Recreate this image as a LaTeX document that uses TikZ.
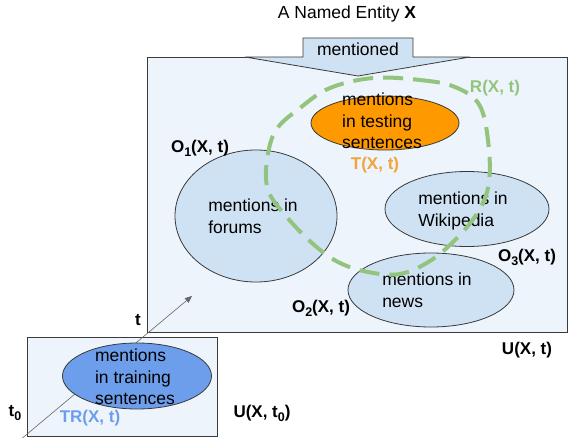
\documentclass[tikz,border=0pt]{standalone}
\usepackage{fontspec}
\setmainfont{Liberation Sans}
\usetikzlibrary{
  shapes.geometric,
  arrows
}
\definecolor{panelblue}{HTML}{EEF4FB}
\definecolor{lightblue}{HTML}{CFE2F3}
\definecolor{testorange}{HTML}{FF9900}
\definecolor{labelorange}{HTML}{F2A33A}
\definecolor{trainblue}{HTML}{6D9EEB}
\definecolor{relgreen}{HTML}{93C47D}
\definecolor{edge}{HTML}{3A3A3A}
\newcommand{\lowsub}[1]{\raisebox{-0.45ex}{\fontsize{12.5}{12.5}\selectfont #1}}
\newcommand{\setlabel}[2]{\textbf{#1\lowsub{#2}(X, t)}}

\begin{document}
\begin{tikzpicture}[
    x=1pt, y=-1pt, >=triangle 45,
    font=\fontsize{17.5}{21.5}\selectfont,
    panel/.style={
      draw=edge,
      fill=panelblue,
      line width=0.8pt
    },
    source/.style={
      ellipse,
      draw=edge,
      fill=lightblue,
      line width=0.8pt,
      inner sep=0pt
    },
    inner/.style={
      align=left,
      inner sep=0pt
    },
    setname/.style={
      inner sep=0pt,
      font=\fontsize{17}{20}\selectfont\bfseries
    }
  ]
  \useasboundingbox (0,0) rectangle (570,438);

  \begin{scope}
    % universe at time t and at time t0
    \draw[panel] (147,57) rectangle (567,332);
    \draw[panel] (27,337) rectangle (217,436);
    \coordinate (tstart) at (20,440);
    \coordinate (ttip) at (192,296);
    \draw[->,gray!80!black,line width=0.6pt] (tstart) -- (ttip);

    % the entity and its mentions
    \node (entity) at (347,14) {A Named Entity \textbf{X}};
    \draw[draw=edge,fill=lightblue,line width=0.8pt]
      (303,38) -- (413,38) -- (413,57) -- (470,57) -- (358,76)
      -- (245,57) -- (303,57) -- cycle;
    \node[inner] (mentioned) at (358,49) {mentioned};

    \node[source,minimum width=162pt,minimum height=132pt] (forums) at (256,216) {};
    \node[source,minimum width=164pt,minimum height=75pt] (wiki) at (467,209) {};
    \node[source,minimum width=166pt,minimum height=74pt] (news) at (431,290) {};
    \node[source,fill=testorange,minimum width=148pt,minimum height=54pt] (testing) at (385,123) {};
    \node[source,fill=trainblue,minimum width=149pt,minimum height=66pt] (training) at (137,376) {};

    \node[inner] (forums-txt) at (253,216) {mentions in\\forums};
    \node[inner] (wiki-txt) at (463,211) {mentions in\\Wikipedia};
    \node[inner] (news-txt) at (427,290) {mentions in\\news};
    \node[inner] (testing-txt) at (382,121) {mentions\\in testing\\sentences};
    \node[inner] (training-txt) at (135,377) {mentions\\in training\\sentences};

    % relevant mentions
    \draw[relgreen,line width=4pt,dash pattern=on 20pt off 10pt]
      plot[smooth cycle,tension=0.6] coordinates {
        (373,78) (420,80) (455,87) (480,106) (489,150) (488,188)
        (476,215) (455,240) (430,261) (400,274) (368,272) (338,262)
        (312,243) (285,215) (268,190) (267,160) (276,130) (300,108) (330,88)};

    % set names
    \node[setname] (o1) at (200,148) {\setlabel{O}{1}};
    \node[setname] (o2) at (321,308) {\setlabel{O}{2}};
    \node[setname] (o3) at (527,257) {\setlabel{O}{3}};
    \node[setname] (u) at (527,350) {U(X, t)};
    \node[setname] (u0) at (262,413) {U(X, t\lowsub{0})};
    \node[setname,text=relgreen] (r) at (495,88) {R(X, t)};
    \node[setname,text=labelorange] (tset) at (375,165) {T(X, t)};
    \node[setname,text=trainblue] (trset) at (90,418) {TR(X, t)};
    \node[setname] (tlabel) at (138,320) {t};
    \node[setname] (t0label) at (15,413) {t\lowsub{0}};
  \end{scope}
\end{tikzpicture}
\end{document}
